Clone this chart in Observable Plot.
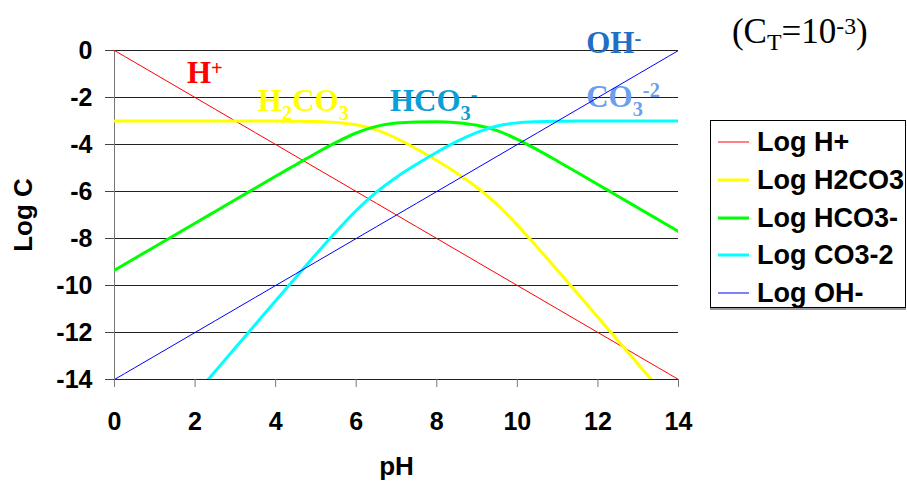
<!DOCTYPE html>
<html>
<head>
<meta charset="utf-8">
<script src="https://cdn.jsdelivr.net/npm/d3@7"></script>
<script src="https://cdn.jsdelivr.net/npm/@observablehq/plot@0.6"></script>
<style>
  body { margin: 0; background: #fff; }
  #wrap { position: relative; width: 907px; height: 483px; overflow: hidden; background: #fff; }
  #legend { position: absolute; left: 710px; top: 120px; width: 196px; height: 188px; box-sizing: border-box;
            border: 1px solid #000; box-shadow: 0 2px 0 #999; background: #fff;
            font: bold 27px "Liberation Sans", Arial, sans-serif; color: #000; }
  .item { position: absolute; left: 0; height: 30px; line-height: 30px; white-space: nowrap; }
  .item svg { position: absolute; left: 7px; top: 0; }
  .item span { position: absolute; left: 46px; top: 0; }
</style>
</head>
<body>
<div id="wrap"><div id="chart"></div><div id="legend"></div></div>
<script>
// ---- data ----
const pH = [0, 0.5, 1, 1.5, 2, 2.5, 3, 3.5, 4, 4.5, 5, 5.5, 6, 6.5, 7, 7.5, 8, 8.5, 9, 9.5, 10, 10.5, 11, 11.5, 12, 12.5, 13, 13.5, 14];
const logH = [0, -0.5, -1, -1.5, -2, -2.5, -3, -3.5, -4, -4.5, -5, -5.5, -6, -6.5, -7, -7.5, -8, -8.5, -9, -9.5, -10, -10.5, -11, -11.5, -12, -12.5, -13, -13.5, -14];
const logH2CO3 = [-3.00, -3.00, -3.00, -3.00, -3.00, -3.00, -3.00, -3.00, -3.00, -3.01, -3.02, -3.06, -3.16, -3.38, -3.74, -4.19, -4.68, -5.22, -5.83, -6.56, -7.43, -8.38, -9.36, -10.35, -11.35, -12.35, -13.35, -14.35, -15.35];
const logHCO3 = [-9.35, -8.85, -8.35, -7.85, -7.35, -6.85, -6.35, -5.85, -5.35, -4.86, -4.37, -3.91, -3.51, -3.23, -3.09, -3.04, -3.03, -3.07, -3.18, -3.41, -3.78, -4.23, -4.71, -5.20, -5.70, -6.20, -6.70, -7.20, -7.70];
const logCO3 = [-18.65, -17.65, -16.65, -15.65, -14.65, -13.65, -12.65, -11.65, -10.65, -9.66, -8.67, -7.71, -6.81, -6.03, -5.39, -4.84, -4.33, -3.87, -3.48, -3.21, -3.08, -3.03, -3.01, -3.00, -3.00, -3.00, -3.00, -3.00, -3.00];
const logOH = [-14, -13.5, -13, -12.5, -12, -11.5, -11, -10.5, -10, -9.5, -9, -8.5, -8, -7.5, -7, -6.5, -6, -5.5, -5, -4.5, -4, -3.5, -3, -2.5, -2, -1.5, -1, -0.5, 0];
const seriesNames = ["Log H+", "Log H2CO3", "Log HCO3-", "Log CO3-2", "Log OH-"];
const xTicks = [0, 2, 4, 6, 8, 10, 12, 14];
const yTicks = [0, -2, -4, -6, -8, -10, -12, -14];
// on-chart labels: [text, kind] parts, anchored at (pH, log C)
const annotations = [
  {parts: [["H", ""], ["+", "sup"]], pH: 1.81, logC: -1.40, key: "H"},
  {parts: [["H", ""], ["2", "sub"], ["CO", ""], ["3", "sub"]], pH: 3.57, logC: -2.60, key: "H2CO3"},
  {parts: [["HCO", ""], ["3", "sub"], ["-", "sup"]], pH: 6.85, logC: -2.60, key: "HCO3"},
  {parts: [["OH", ""], ["-", "sup"]], pH: 11.72, logC: -0.13, key: "OH"},
  {parts: [["CO", ""], ["3", "sub"], ["-2", "sup"]], pH: 11.72, logC: -2.43, key: "CO3"},
  {parts: [["(C", ""], ["T", "sub"], ["=10", ""], ["-3", "sup"], [")", ""]], pH: 15.34, logC: 0.30, key: "CT"}
];

// ---- styles ----
const sans = "'Liberation Sans', Arial, sans-serif";
const serif = "'Liberation Serif', 'Times New Roman', serif";
const lineStyle = [
  {color: "#ff0000", width: 1},
  {color: "#ffff00", width: 3},
  {color: "#00ff00", width: 3},
  {color: "#00ffff", width: 3},
  {color: "#0000ff", width: 1}
];
const labelStyle = {
  H: {color: "#ff0000", size: 31, weight: "bold", sub: 0.3, sup: 0.24, ratio: 0.66},
  H2CO3: {color: "#ffff00", size: 31, weight: "bold", sub: 0.3, sup: 0.3, ratio: 0.66},
  HCO3: {color: "#0a9fd6", size: 31, weight: "bold", sub: 0.3, sup: 0.32, ratio: 0.66},
  OH: {color: "#1f6fc4", size: 31, weight: "bold", sub: 0.3, sup: 0.26, ratio: 0.66},
  CO3: {color: "#6aa0ee", size: 31, weight: "bold", sub: 0.3, sup: 0.32, ratio: 0.66},
  CT: {color: "#000000", size: 35, weight: "normal", sub: 0.2, sup: 0.26, ratio: 0.68}
};

const seriesValues = [logH, logH2CO3, logHCO3, logCO3, logOH];
const tables = seriesValues.map((vals, s) => pH.map((p, i) => ({pH: p, v: vals[i], name: seriesNames[s]})));

function richLabels(index, scales) {
  const g = d3.create("svg:g").attr("text-anchor", "start");
  for (const L of annotations) {
    const st = labelStyle[L.key];
    const t = g.append("text")
      .attr("x", scales.x(L.pH)).attr("y", scales.y(L.logC))
      .attr("text-anchor", "start")
      .attr("fill", st.color).attr("font-family", serif)
      .attr("font-weight", st.weight).attr("font-size", st.size);
    let off = 0;
    for (const [s, kind] of L.parts) {
      const target = kind === "sub" ? st.size * st.sub : kind === "sup" ? -st.size * st.sup : 0;
      t.append("tspan").attr("dy", target - off)
        .attr("font-size", kind ? st.size * st.ratio : st.size).text(s);
      off = target;
    }
  }
  return g.node();
}

const chart = Plot.plot({
  width: 907, height: 483,
  marginLeft: 114, marginRight: 229, marginTop: 50, marginBottom: 104,
  x: {domain: [0, 14]},
  y: {domain: [-14, 0]},
  style: {fontFamily: sans, fontSize: "25px", fontWeight: "bold", color: "#000", background: "transparent", overflow: "visible"},
  marks: [
    Plot.ruleY(yTicks, {stroke: "#222", strokeWidth: 1}),
    Plot.ruleX([0], {stroke: "#777", strokeWidth: 1}),
    Plot.axisY({ticks: yTicks, tickSize: 9, tickPadding: 13, tickFormat: d => String(d), label: null, stroke: "#444", fontSize: 25}),
    Plot.axisX({ticks: xTicks, tickSize: 8, tickPadding: 25, tickFormat: d => String(d), label: null, stroke: "#777", fontSize: 25}),
    Plot.text(["Log C"], {frameAnchor: "left", dx: -91, rotate: -90, textAnchor: "middle", lineAnchor: "middle", fontSize: 26}),
    Plot.text(["pH"], {frameAnchor: "bottom", dy: 87, textAnchor: "middle", lineAnchor: "middle", fontSize: 26}),
    richLabels,
    ...tables.map((t, s) => Plot.line(t, {x: "pH", y: "v", stroke: lineStyle[s].color, strokeWidth: lineStyle[s].width, curve: "monotone-x", clip: true}))
  ]
});
document.getElementById("chart").appendChild(chart);

// legend
const legend = document.getElementById("legend");
seriesNames.forEach((name, s) => {
  const div = document.createElement("div");
  div.className = "item";
  div.style.top = (6 + s * 37.8) + "px";
  div.innerHTML = `<svg width="32" height="30"><line x1="0" x2="31" y1="15" y2="15" stroke="${lineStyle[s].color}" stroke-width="${lineStyle[s].width}"/></svg><span>${name}</span>`;
  legend.appendChild(div);
});
</script>
</body>
</html>
